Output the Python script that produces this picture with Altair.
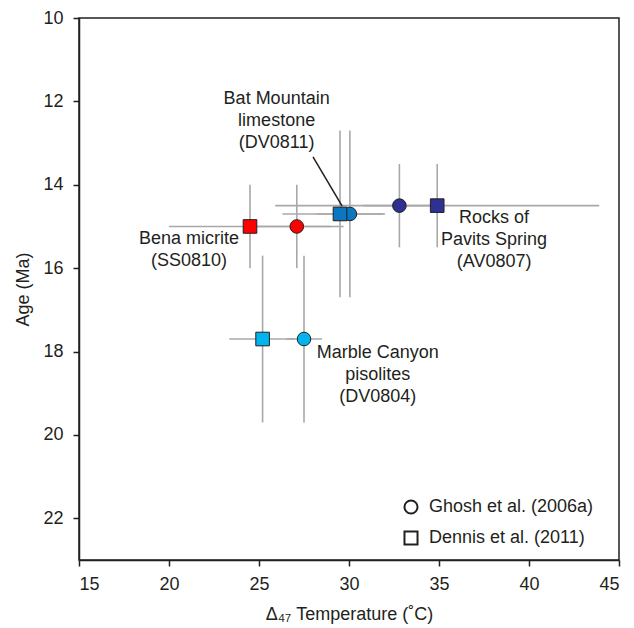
import altair as alt
import pandas as pd

# ---- data ----
sample = ["Bena micrite", "Bat Mountain", "Pavits Spring", "Marble Canyon",
          "Bena micrite", "Bat Mountain", "Pavits Spring", "Marble Canyon"]
study = ["Ghosh et al. (2006a)"] * 4 + ["Dennis et al. (2011)"] * 4
temp = [27.1, 30.05, 32.8, 27.5, 24.5, 29.5, 34.9, 25.2]
temp_lo = [24.6, 28.2, 30.8, 26.5, 20.0, 26.3, 25.9, 23.35]
temp_hi = [29.7, 31.9, 34.8, 28.5, 29.0, 32.0, 43.9, 27.0]
age = [15.0, 14.7, 14.5, 17.7, 15.0, 14.7, 14.5, 17.7]
age_lo = [14.0, 12.7, 13.5, 15.7, 14.0, 12.7, 13.5, 15.7]
age_hi = [16.0, 16.7, 15.5, 19.7, 16.0, 16.7, 15.5, 19.7]

sample_names = ["Bena micrite", "Bat Mountain", "Pavits Spring", "Marble Canyon"]
sample_colors = ["#ff0000", "#0a77c0", "#2e3192", "#00b4ee"]
study_names = ["Ghosh et al. (2006a)", "Dennis et al. (2011)"]
study_shapes = ["circle", "square"]

label_text = ["Bat Mountain\nlimestone\n(DV0811)", "Bena micrite\n(SS0810)",
              "Rocks of\nPavits Spring\n(AV0807)", "Marble Canyon\npisolites\n(DV0804)"]
label_temp = [25.98, 21.11, 38.06, 31.6]
label_age = [11.95, 15.30, 14.79, 18.04]

leader_temp = [28.0, 29.62]
leader_age = [13.33, 14.51]

x_ticks = [15, 20, 25, 30, 35, 40, 45]
y_ticks = [10, 12, 14, 16, 18, 20, 22]

INK = "#231f20"
GREY = "#a8a8a8"
FONT = "Liberation Sans"

df = pd.DataFrame({"sample": sample, "study": study, "temp": temp,
                   "temp_lo": temp_lo, "temp_hi": temp_hi,
                   "age": age, "age_lo": age_lo, "age_hi": age_hi,
                   "order": list(range(len(sample)))})
labels = pd.DataFrame({"text": label_text, "temp": label_temp, "age": label_age})
leader = pd.DataFrame({"t1": [leader_temp[0]], "a1": [leader_age[0]],
                       "t2": [leader_temp[1]], "a2": [leader_age[1]]})

xscale = alt.Scale(domain=[15, 45], nice=False, zero=False)
yscale = alt.Scale(domain=[10, 23], nice=False, zero=False, reverse=True)

xaxis = alt.Axis(values=x_ticks, title="Δ₄₇ Temperature (˚C)", grid=False,
                 labelPadding=9, titlePadding=12)
yaxis = alt.Axis(values=y_ticks, title="Age (Ma)", grid=False,
                 labelPadding=10, titlePadding=10)

base = alt.Chart(df)

hbar = base.mark_rule(color=GREY, strokeWidth=1.6).encode(
    x=alt.X("temp_lo:Q", scale=xscale, axis=xaxis),
    x2="temp_hi:Q",
    y=alt.Y("age:Q", scale=yscale, axis=yaxis),
)
vbar = base.mark_rule(color=GREY, strokeWidth=1.6).encode(
    x=alt.X("temp:Q", scale=xscale),
    y=alt.Y("age_lo:Q", scale=yscale),
    y2="age_hi:Q",
)

points = base.mark_point(filled=True, size=185, stroke=INK, strokeWidth=1,
                         opacity=1).encode(
    x=alt.X("temp:Q", scale=xscale),
    y=alt.Y("age:Q", scale=yscale),
    color=alt.Color("sample:N", scale=alt.Scale(domain=sample_names, range=sample_colors),
                    legend=None),
    shape=alt.Shape("study:N", scale=alt.Scale(domain=study_names, range=study_shapes),
                    legend=alt.Legend(title=None, orient="none", legendX=323, legendY=480,
                                      labelFontSize=18, labelFont=FONT, labelColor=INK,
                                      labelLimit=400,
                                      symbolSize=170, symbolFillColor="white",
                                      symbolStrokeColor=INK, symbolStrokeWidth=2,
                                      symbolOpacity=1,
                                      labelOffset=9, rowPadding=9, padding=0)),
    order=alt.Order("order:Q"),
)

lead = alt.Chart(leader).mark_rule(color=INK, strokeWidth=1.5).encode(
    x=alt.X("t1:Q", scale=xscale), y=alt.Y("a1:Q", scale=yscale),
    x2="t2:Q", y2="a2:Q",
)

text = alt.Chart(labels).mark_text(fontSize=18, font=FONT, color=INK, align="center",
                                   baseline="middle", lineBreak="\n",
                                   lineHeight=22).encode(
    x=alt.X("temp:Q", scale=xscale),
    y=alt.Y("age:Q", scale=yscale),
    text="text:N",
)

chart = alt.layer(hbar, vbar, lead, points, text).properties(
    width=540, height=542,
    autosize=alt.AutoSizeParams(type="none"),
    padding={"left": 71, "top": 10, "right": 7, "bottom": 66},
).configure_view(
    stroke=INK, strokeWidth=1.5
).configure_axis(
    domainColor=INK, domainWidth=1.5, tickColor=INK, tickWidth=1.5, tickSize=6,
    labelFontSize=18, labelFont=FONT, labelColor=INK,
    titleFontSize=18, titleFont=FONT, titleColor=INK, titleFontWeight="normal",
)

chart.save("out.html", embed_options={"renderer": "svg", "actions": False})
